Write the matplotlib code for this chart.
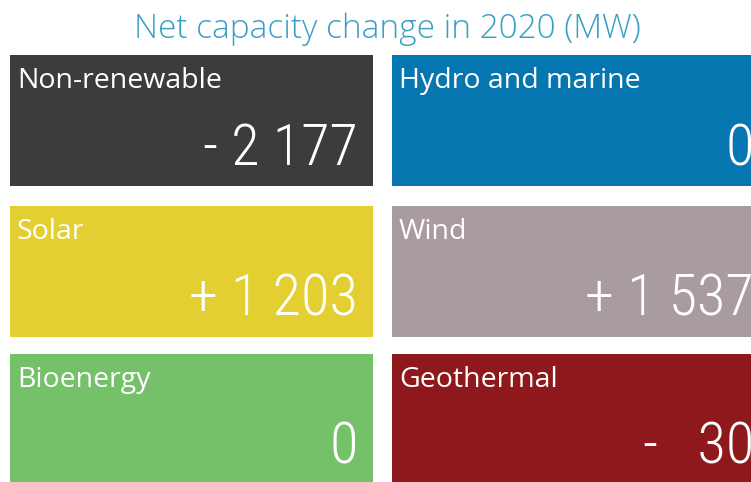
import matplotlib.pyplot as plt

# tile data
labels = ["Non-renewable", "Hydro and marine", "Solar", "Wind", "Bioenergy", "Geothermal"]
values = [-2177, 0, 1203, 1537, 0, -30]
colors = ["#3c3c3c", "#0676b0", "#e3cf32", "#a99c9f", "#74c16a", "#8f181c"]
title = "Net capacity change in 2020 (MW)"


def fmt(v):
    # sign, space, thousands grouped by spaces
    if v == 0:
        return "0"
    s = f"{abs(v):,}".replace(",", " ")
    if abs(v) < 100:
        s = "  " + s
    return ("+ " if v > 0 else "- ") + s


W, H = 751, 482
fig = plt.figure(figsize=(W / 100, H / 100), dpi=100)
ax = fig.add_axes([0, 0, 1, 1])
ax.set_xlim(0, W)
ax.set_ylim(H, 0)
ax.axis("off")

# layout (pixels)
col_x = [10, 392]
col_w = [363, 377]
row_y = [55, 206, 354]
row_h = [131, 131, 140]

for i, (lab, val, c) in enumerate(zip(labels, values, colors)):
    r, k = divmod(i, 2)
    x0, w = col_x[k], col_w[k]
    y0, h = row_y[r], row_h[r]
    ax.bar(x0, h, width=w, bottom=y0, align="edge", color=c, linewidth=0)
    ax.text(x0 + 7, y0 + 33, lab, color="white", fontsize=20.5, family="Open Sans",
            ha="left", va="baseline")
    ax.text(x0 + w - 15, y0 + 110, fmt(val), color="white", fontsize=42,
            family=["Roboto Condensed", "Roboto"], fontweight="light",
            ha="right", va="baseline")

ax.text(W / 2 + 12, 38, title, color="#3a9fc6", fontsize=24, family="Open Sans",
        fontweight="light", ha="center", va="baseline")

fig.savefig("out.png", dpi=100, facecolor="white")
